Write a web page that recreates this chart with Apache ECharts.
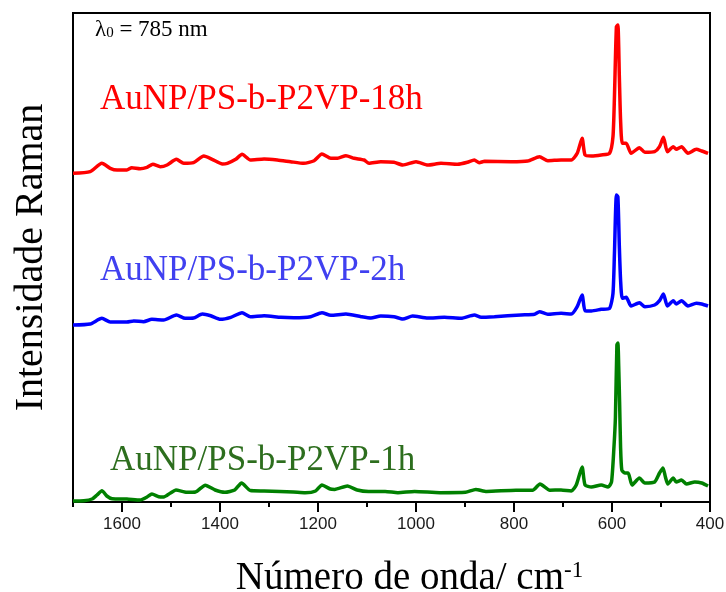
<!DOCTYPE html>
<html>
<head>
<meta charset="utf-8">
<script src="https://cdn.jsdelivr.net/npm/echarts@6/dist/echarts.min.js"></script>
<style>
  html, body { margin: 0; padding: 0; background: #fff; }
  #chart { width: 726px; height: 592px; }
</style>
</head>
<body>
<div id="chart"></div>
<script>
// Raman spectra (stacked with vertical offsets, arbitrary intensity units)
// each point: [wavenumber cm-1, intensity]
const spectrum1h = [
  [1700, 1], [1678, 1.3], [1661, 3], [1651, 7], [1641, 11.3], [1631, 6], [1620, 3.3],
  [1590, 3], [1563, 2], [1549, 5], [1539, 8], [1525, 5.3], [1515, 5], [1501, 9],
  [1490, 12], [1468, 9.7], [1450, 10], [1430, 16.8], [1410, 12], [1390, 9.7],
  [1370, 12], [1356, 19], [1338, 11.4], [1310, 11], [1278, 10.5], [1250, 10],
  [1226, 9.3], [1205, 11], [1192, 17], [1175, 13], [1166, 12.6], [1140, 16],
  [1120, 12], [1097, 10.5], [1063, 10.5], [1037, 9.3], [1003, 10.5], [951, 9.3],
  [899, 9.7], [878, 12.6], [856, 10.5], [796, 11.8], [762, 11.8], [747, 18],
  [727, 11.8], [704, 12], [683, 11], [673, 17], [661, 35], [655, 17], [642, 15],
  [622, 17], [608, 15], [601, 20], [596, 55], [593, 85], [590, 157], [588, 159],
  [586, 130], [584.5, 100], [582.5, 55], [580, 32], [574, 29], [567, 29], [559, 17],
  [544, 24], [533, 19], [513, 20], [503, 29], [496, 34], [491, 25], [486, 18],
  [475, 24], [469, 20], [458, 22], [448, 18], [431, 20], [417, 19], [404, 16]
];

const spectrum2h = [
  [1700, 177], [1665, 178], [1641, 183.7], [1624, 180], [1590, 180], [1576, 181],
  [1556, 180.3], [1539, 182.7], [1515, 182], [1489, 187], [1471, 183.7], [1454, 184],
  [1436, 188], [1419, 186.3], [1399, 182.7], [1378, 184.7], [1355, 189.3], [1338, 185.3],
  [1310, 186.3], [1276, 184.7], [1249, 184.3], [1215, 185.3], [1192, 189.3], [1174, 186.7],
  [1143, 188], [1112, 185.3], [1092, 184], [1072, 186], [1045, 185.3], [1027, 183],
  [1007, 186], [976, 184], [942, 184.7], [908, 183.7], [881, 187], [867, 184.7],
  [840, 185.3], [786, 187], [758, 187.7], [748, 190.3], [731, 187.7], [704, 188.7],
  [683, 188], [671, 195.3], [661, 207], [655, 191.3], [642, 191], [622, 192.7],
  [605, 193.7], [598, 208.7], [595, 248.7], [591, 307], [588, 305.3], [585, 255.3],
  [582.5, 222], [579, 203.7], [571, 204.7], [561, 196], [544, 199.3], [533, 195.3],
  [513, 197], [503, 201.3], [495, 208], [487, 196], [475, 201.3], [469, 198],
  [458, 201.3], [445, 196], [428, 198.7], [417, 198], [404, 196]
];

const spectrum18h = [
  [1700, 328.7], [1665, 330.3], [1641, 338.7], [1624, 333.7], [1610, 332], [1590, 332],
  [1580, 334.3], [1563, 333.3], [1549, 334.7], [1537, 337.7], [1522, 335.3], [1508, 337],
  [1489, 342.7], [1474, 338.7], [1454, 339.3], [1433, 346], [1416, 342.7], [1395, 338],
  [1385, 338.7], [1368, 342.7], [1355, 347.7], [1338, 342], [1310, 343], [1283, 342],
  [1256, 340.3], [1229, 338.7], [1208, 341.3], [1192, 348], [1174, 343.7], [1160, 343.7],
  [1143, 346.3], [1126, 343.7], [1106, 342], [1096, 338.7], [1072, 340.3], [1045, 339.7],
  [1027, 337], [1000, 340.3], [976, 337], [949, 338.7], [915, 337.7], [895, 339.7],
  [881, 342], [871, 339.3], [860, 340.7], [806, 340.3], [772, 341], [748, 345.3],
  [731, 341.3], [704, 342], [683, 342], [671, 348.7], [661, 363.7], [655, 347],
  [642, 346], [622, 347], [605, 348.7], [598, 365.3], [595, 405.3], [591, 475.3],
  [588, 477], [585, 425.3], [582.5, 382], [579, 358.7], [571, 358.7], [561, 348.7],
  [544, 354.3], [533, 349.7], [513, 350.3], [503, 355.3], [495, 364.7], [487, 350.3],
  [475, 355.3], [469, 352.7], [458, 355.3], [445, 348.7], [428, 352.7], [417, 351],
  [404, 348.7]
];

const seriesNames = ['AuNP/PS-b-P2VP-1h', 'AuNP/PS-b-P2VP-2h', 'AuNP/PS-b-P2VP-18h'];
const lineColors = ['#008000', '#0000ff', '#ff0000'];
const labelColors = ['#2d6e1e', '#4040f0', '#ff0000'];

const serif = '"Liberation Serif", "Times New Roman", serif';
const sans = '"Liberation Sans", Arial, sans-serif';

const chart = echarts.init(document.getElementById('chart'), null, { renderer: 'canvas' });

const spectra = [spectrum1h, spectrum2h, spectrum18h];

chart.setOption({
  animation: false,
  backgroundColor: '#fff',
  grid: {
    left: 73, right: 16, top: 13, bottom: 90,
    outerBoundsMode: 'none',
    show: true, borderColor: '#000', borderWidth: 2, backgroundColor: 'transparent'
  },
  xAxis: [
    {
      type: 'value', inverse: true, min: 400, max: 1700, interval: 200,
      name: '{a|Número de onda/ cm}{s|-1}',
      nameLocation: 'middle', nameGap: 57,
      nameTextStyle: {
        padding: [0, 0, 0, 36],
        rich: {
          a: { fontFamily: serif, fontSize: 39, color: '#000' },
          s: { fontFamily: serif, fontSize: 23, color: '#000', verticalAlign: 'top', padding: [0, 0, 14, 0] }
        }
      },
      axisLine: { show: true, onZero: false, lineStyle: { color: '#000', width: 2 } },
      axisTick: { show: true, length: 10, lineStyle: { color: '#000', width: 2 } },
      axisLabel: {
        fontFamily: sans, fontSize: 17, color: '#1a1a1a', margin: 14,
        showMaxLabel: false,
        formatter: (v) => String(v)
      },
      splitLine: { show: false }
    },
    {
      // minor ticks every 100 cm-1
      type: 'value', inverse: true, min: 400, max: 1700, interval: 100,
      position: 'bottom',
      axisLine: { show: false },
      axisTick: { show: true, length: 5, lineStyle: { color: '#000', width: 2 } },
      axisLabel: { show: false },
      splitLine: { show: false }
    }
  ],
  yAxis: {
    type: 'value', min: 0, max: 489,
    name: 'Intensidade Raman',
    nameLocation: 'middle', nameGap: 22, nameRotate: 90,
    nameTextStyle: { fontFamily: serif, fontSize: 40, color: '#000' },
    axisLine: { show: true, lineStyle: { color: '#000', width: 2 } },
    axisTick: { show: false },
    axisLabel: { show: false },
    splitLine: { show: false }
  },
  series: spectra.map((d, i) => ({
    type: 'line',
    name: seriesNames[i],
    data: d,
    xAxisIndex: 0,
    showSymbol: false,
    smooth: 0.2,
    lineStyle: { color: lineColors[i], width: 3.5 },
    z: 3
  })),
  graphic: [
    {
      type: 'text', left: 95, top: 18,
      style: {
        text: '{l|λ}{b|0}{l| = 785 nm}',
        rich: {
          l: { fontFamily: serif, fontSize: 23, fill: '#000' },
          b: { fontFamily: serif, fontSize: 15, fill: '#000', verticalAlign: 'bottom' }
        }
      }
    },
    {
      type: 'text', x: 100, y: 100,
      style: { text: seriesNames[2], font: '35px ' + serif, fill: labelColors[2], verticalAlign: 'middle' }
    },
    {
      type: 'text', x: 100, y: 271,
      style: { text: seriesNames[1], font: '35px ' + serif, fill: labelColors[1], verticalAlign: 'middle' }
    },
    {
      type: 'text', x: 110, y: 461,
      style: { text: seriesNames[0], font: '35px ' + serif, fill: labelColors[0], verticalAlign: 'middle' }
    }
  ]
});
</script>
</body>
</html>
